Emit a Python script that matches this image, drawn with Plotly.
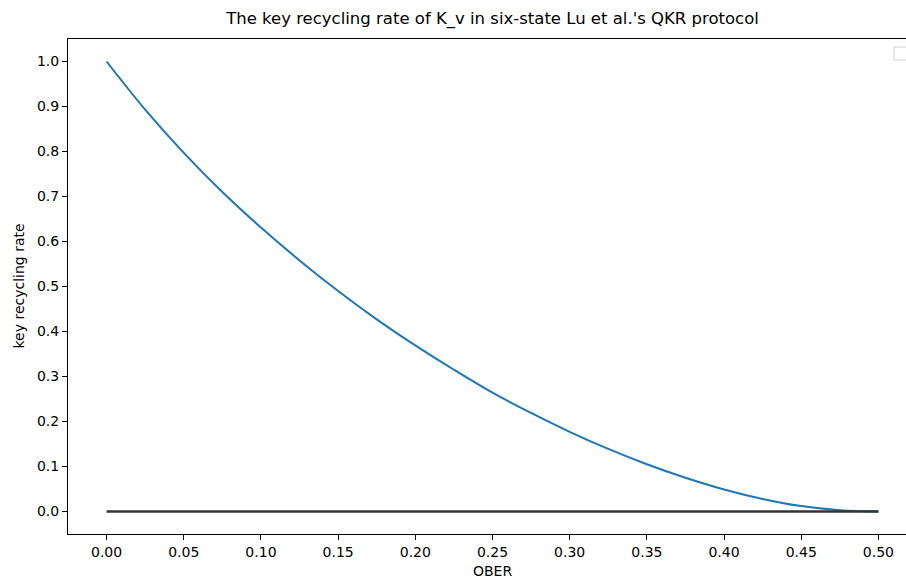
import plotly.graph_objects as go

# Data
ober = [0.0, 0.025, 0.05, 0.075, 0.1, 0.125, 0.15, 0.175, 0.2, 0.225, 0.25,
        0.275, 0.3, 0.325, 0.35, 0.375, 0.4, 0.425, 0.45, 0.475, 0.5]
rate = [1.0, 0.893, 0.797, 0.710, 0.631, 0.558, 0.490, 0.427, 0.369, 0.315, 0.264,
        0.219, 0.177, 0.139, 0.105, 0.075, 0.049, 0.028, 0.012, 0.003, 0.0]
zero_x = [0.0, 0.5]
zero_y = [0.0, 0.0]

x_ticks = [0.0, 0.05, 0.1, 0.15, 0.2, 0.25, 0.3, 0.35, 0.4, 0.45, 0.5]
x_tick_text = ["0.00", "0.05", "0.10", "0.15", "0.20", "0.25", "0.30", "0.35", "0.40", "0.45", "0.50"]
y_ticks = [0.0, 0.1, 0.2, 0.3, 0.4, 0.5, 0.6, 0.7, 0.8, 0.9, 1.0]
y_tick_text = ["0.0", "0.1", "0.2", "0.3", "0.4", "0.5", "0.6", "0.7", "0.8", "0.9", "1.0"]

title_text = "The key recycling rate of K_v in six-state Lu et al.'s QKR protocol"
x_label = "OBER"
y_label = "key recycling rate"

FONT = "DejaVu Sans"
W, H = 906, 578
L, T, B = 68, 39, 44
plot_w = W - L               # axes from page x=68 to 906 (right spine is off-page)
plot_h = H - T - B           # axes from page y=39 to 534
PX_PER_X = 1543.6

fig = go.Figure()
fig.add_trace(go.Scatter(x=ober, y=rate, mode="lines",
                         line=dict(color="#1f77b4", width=2, shape="spline", smoothing=1.0),
                         showlegend=False))
fig.add_trace(go.Scatter(x=zero_x, y=zero_y, mode="lines",
                         line=dict(color="#333333", width=2.5),
                         showlegend=False))

axis_common = dict(showgrid=False, zeroline=False, showline=True, linecolor="#000000",
                   linewidth=1, ticks="outside", ticklen=5, tickwidth=1, tickcolor="#000000",
                   tickfont=dict(family=FONT, size=14, color="#000000"))

def px_x(page_x):
    return (page_x - L) / plot_w

def px_y(page_y):
    return (H - B - page_y) / plot_h

fig.update_layout(
    width=W, height=H,
    margin=dict(l=L, r=0, t=T, b=B, pad=0),
    paper_bgcolor="white", plot_bgcolor="white",
    font=dict(family=FONT, color="#000000"),
    title=dict(text=title_text, x=px_x(492.5), xref="paper", xanchor="center",
               y=1 - 18 / H, yref="container", yanchor="middle",
               font=dict(family=FONT, size=16.5, color="#000000")),
    xaxis=dict(range=[-0.025, -0.025 + plot_w / PX_PER_X], tickvals=x_ticks, ticktext=x_tick_text,
               mirror=True, **axis_common),
    yaxis=dict(range=[-0.05, 1.05], tickvals=y_ticks, ticktext=y_tick_text,
               mirror=False, **axis_common),
    showlegend=False,
)

fig.add_annotation(text=x_label, xref="paper", yref="paper",
                   x=px_x(492.5), y=px_y(571),
                   xanchor="center", yanchor="middle", showarrow=False,
                   font=dict(family=FONT, size=14, color="#000000"))
fig.add_annotation(text=y_label, xref="paper", yref="paper",
                   x=px_x(18), y=0.5, textangle=-90,
                   xanchor="center", yanchor="middle", showarrow=False,
                   font=dict(family=FONT, size=14, color="#000000"))

# empty legend box (partly cut off at the right edge)
fig.add_shape(type="rect", xref="paper", yref="paper",
              x0=px_x(894), x1=px_x(912),
              y0=px_y(60), y1=px_y(47),
              line=dict(color="#d0d0d0", width=1), fillcolor="rgba(255,255,255,0.8)")

fig.write_html("out.html",
               config={"displayModeBar": False},
               post_script="document.body.style.margin='0';document.body.style.overflow='hidden';")
